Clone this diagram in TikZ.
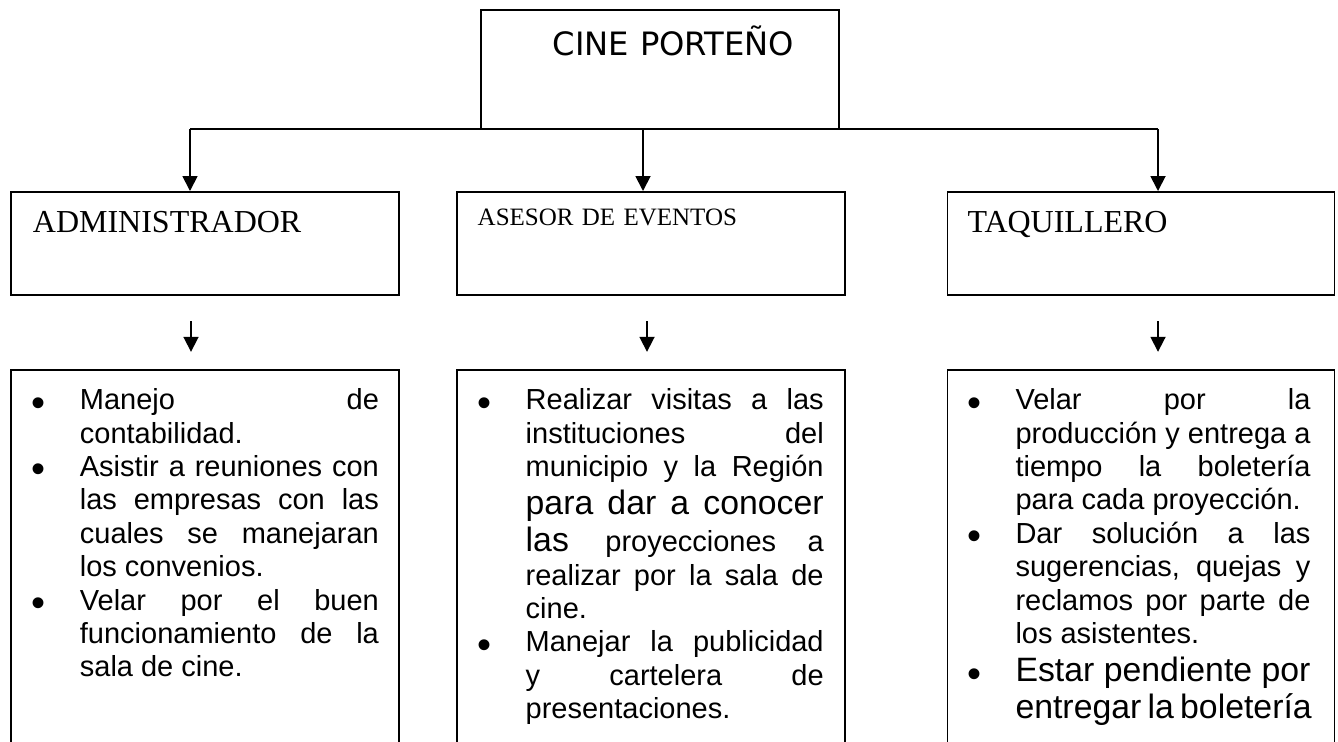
\documentclass[tikz,border=0pt]{standalone}
\usepackage{fontspec}
\setmainfont{Liberation Serif}
\newfontfamily\arialfont{Liberation Sans}
\newfontfamily\titlefont{DejaVu Sans}
\usetikzlibrary{positioning}
\usetikzlibrary{arrows.meta}

\newcommand{\jl}[1]{\makebox[\linewidth][s]{#1}\par}
\newcommand{\nl}[1]{\mbox{#1}\par}
\newcommand{\bul}{\llap{\raisebox{-3.2pt}{\fontsize{20}{20}\selectfont\textbullet}\hspace{17pt}}}
\newcommand{\normal}{\fontsize{14.5}{16.7}\selectfont}
\newcommand{\grande}{\fontsize{16.9}{18.8}\selectfont}

\begin{document}
\begin{tikzpicture}[x=0.5pt, y=-0.5pt,
  caja/.style = {draw, line width=0.9pt, inner sep=0pt, align=left},
  cargo/.style = {draw, line width=0.9pt, inner ysep=0pt, align=left, font=\fontsize{16}{19}\selectfont},
  tarea/.style = {draw, line width=0.9pt, inner sep=0pt, text height=20pt, text depth=300pt},
  flecha/.style = {line width=0.9pt, -{Triangle[length=7.5pt,width=7.5pt]}},
  node distance=36.5pt]
\useasboundingbox (0,0) rectangle (1338,741);
\clip (0,0) rectangle (1338,741);

% cabecera
\node[caja, anchor=north west, text width=179pt, text height=23pt, text depth=36.5pt,
  font=\titlefont\fontsize{16.1}{19}\selectfont] (cine) at (480,9) {\hspace*{36pt}CINE PORTEÑO};

% cargos
\node[cargo, anchor=north west, inner xsep=11pt, text width=172pt, text height=20.5pt, text depth=31pt] (adm) at (10,191) {ADMINISTRADOR};
\node[cargo, right=28pt of adm, inner xsep=10.5pt, text width=173pt, text height=17pt, text depth=34.5pt,
  font=\fontsize{12.5}{15}\selectfont] (ase) {ASESOR DE EVENTOS};
\node[cargo, right=50.5pt of ase, inner xsep=10pt, text width=173.5pt, text height=20.5pt, text depth=31pt] (taq) {TAQUILLERO};

% funciones
\node[tarea, below=of adm] (fadm) {\hspace*{34.5pt}\begin{minipage}[t]{149.5pt}\arialfont\normal
\jl{\bul Manejo de}
\nl{contabilidad.}
\jl{\bul Asistir a reuniones con}
\jl{las empresas con las}
\jl{cuales se manejaran}
\nl{los convenios.}
\jl{\bul Velar por el buen}
\jl{funcionamiento de la}
\nl{sala de cine.}
\end{minipage}\hspace*{10pt}};

\node[tarea, below=of ase] (fase) {\hspace*{34.5pt}\begin{minipage}[t]{149pt}\arialfont\normal
\jl{\bul Realizar visitas a las}
\jl{instituciones del}
\jl{municipio y la Región}
{\grande\jl{para dar a conocer}}
{\grande\jl{las \normal proyecciones a}}
\jl{realizar por la sala de}
\nl{cine.}
\jl{\bul Manejar la publicidad}
\jl{y cartelera de}
\nl{presentaciones.}
\end{minipage}\hspace*{10.5pt}};

\node[tarea, below=of taq] (ftaq) {\hspace*{34pt}\begin{minipage}[t]{147.5pt}\arialfont\normal
\jl{\bul Velar por la}
\jl{producción y entrega a}
\jl{tiempo la boletería}
\nl{para cada proyección.}
\jl{\bul Dar solución a las}
\jl{sugerencias, quejas y}
\jl{reclamos por parte de}
\nl{los asistentes.}
{\grande\jl{\bul Estar pendiente por}}
{\grande\jl{entregar la boletería}}
\end{minipage}\hspace*{12pt}};

% conectores
\coordinate (b1) at (190,129);
\coordinate (b2) at (643,129);
\coordinate (b3) at (1158,129);
\draw[line width=0.9pt] (b1) -- (b3);
\draw[flecha] (b1) -- (b1 |- adm.north);
\draw[flecha] (b2) -- (b2 |- ase.north);
\draw[flecha] (b3) -- (b3 |- taq.north);

\coordinate (s1) at (191,321);
\coordinate (s2) at (647,321);
\coordinate (s3) at (1158,321);
\draw[flecha, shorten >=8.5pt] (s1) -- (s1 |- fadm.north);
\draw[flecha, shorten >=8.5pt] (s2) -- (s2 |- fase.north);
\draw[flecha, shorten >=8.5pt] (s3) -- (s3 |- ftaq.north);
\end{tikzpicture}
\end{document}
